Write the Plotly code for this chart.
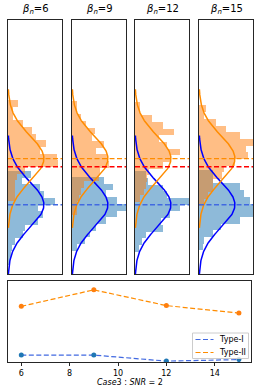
import numpy as np
import plotly.graph_objects as go

# ---------------- data ----------------
betas = [6, 9, 12, 15]
bin_width = 0.29
mu_null, mu_alt, sigma = 0.0, 2.0, 1.0
threshold = 1.645

# histogram densities, listed from the top bin downwards
orange_top = [4.53, 4.50, 4.46, 4.30]
orange_b6 = [0.11, 0.06, 0.06, 0.17, 0.27, 0.31, 0.42, 0.36, 0.54, 0.56, 0.19, 0.10, 0.08, 0.08, 0.08]
orange_b9 = [0.06, 0.06, 0.10, 0.15, 0.26, 0.22, 0.35, 0.27, 0.39, 0.41, 0.31, 0.30, 0.13, 0.10, 0.08, 0.06, 0.05]
orange_b12 = [0.06, 0.06, 0.19, 0.31, 0.43, 0.27, 0.35, 0.50, 0.39, 0.31, 0.15, 0.13, 0.12, 0.10, 0.06]
orange_b15 = [0.08, 0.06, 0.19, 0.30, 0.45, 0.65, 0.52, 0.54, 0.40, 0.28, 0.25, 0.15, 0.15, 0.10, 0.05]

blue_top = [1.46, 1.20, 1.45, 1.50]
blue_b6 = [0.26, 0.15, 0.36, 0.40, 0.52, 0.33, 0.39, 0.33, 0.19, 0.17, 0.08, 0.04, 0.03, 0.02]
blue_b9 = [0.35, 0.45, 0.38, 0.50, 0.60, 0.50, 0.38, 0.27, 0.20, 0.14, 0.06]
blue_b12 = [0.12, 0.14, 0.31, 0.35, 0.65, 0.50, 0.39, 0.29, 0.31, 0.12, 0.08, 0.04]
blue_b15 = [0.15, 0.15, 0.46, 0.50, 0.57, 0.65, 0.62, 0.45, 0.24, 0.15, 0.06, 0.04]

orange_hists = [orange_b6, orange_b9, orange_b12, orange_b15]
blue_hists = [blue_b6, blue_b9, blue_b12, blue_b15]

# error rates
type1 = [0.04, 0.04, 0.0, 0.01]
type2 = [0.365, 0.475, 0.37, 0.32]
series_names = ['Type-I', 'Type-II']

# ---------------- layout geometry ----------------
W, H = 260, 392
panel_x = [(8, 62), (72, 126), (135, 189), (199, 253)]
top_y = (20, 274)
bot_x = (8, 251)
bot_y = (281, 362)


def px_x(a, b):
    return [a / W, b / W]


def px_y(a, b):
    return [1 - b / H, 1 - a / H]


def pdf(y, mu, s):
    return np.exp(-0.5 * ((y - mu) / s) ** 2) / (s * np.sqrt(2 * np.pi))


C_ORANGE = '#ff7f0e'
C_BLUE = '#1f77b4'
DASH = '5px,2.5px'

fig = go.Figure()
shapes = []
annotations = []
layout_axes = {}

for i, beta in enumerate(betas):
    n = i + 1
    xa = 'x' if n == 1 else f'x{n}'
    ya = 'y' if n == 1 else f'y{n}'
    bd = blue_hists[i]
    bc = [blue_top[i] - bin_width * (k + 0.5) for k in range(len(bd))]
    fig.add_trace(go.Bar(x=bd, y=bc, orientation='h', width=bin_width, base=0,
                         marker=dict(color=C_BLUE, line=dict(width=0)), opacity=0.5,
                         xaxis=xa, yaxis=ya, showlegend=False, hoverinfo='skip'))
    od = orange_hists[i]
    oc = [orange_top[i] - bin_width * (k + 0.5) for k in range(len(od))]
    fig.add_trace(go.Bar(x=od, y=oc, orientation='h', width=bin_width, base=0,
                         marker=dict(color=C_ORANGE, line=dict(width=0)), opacity=0.5,
                         xaxis=xa, yaxis=ya, showlegend=False, hoverinfo='skip'))
    yb = np.linspace(mu_null - 3 * sigma, mu_null + 3 * sigma, 200)
    fig.add_trace(go.Scatter(x=pdf(yb, mu_null, sigma), y=yb, mode='lines',
                             line=dict(color='blue', width=1.5), xaxis=xa, yaxis=ya,
                             showlegend=False, hoverinfo='skip'))
    yo = np.linspace(mu_alt - 3 * sigma, mu_alt + 3 * sigma, 200)
    fig.add_trace(go.Scatter(x=pdf(yo, mu_alt, sigma), y=yo, mode='lines',
                             line=dict(color='darkorange', width=1.5), xaxis=xa, yaxis=ya,
                             showlegend=False, hoverinfo='skip'))
    for val, col in [(mu_alt, 'darkorange'), (threshold, 'red'), (mu_null, 'royalblue')]:
        shapes.append(dict(type='line', xref=f'{xa} domain', yref=ya, x0=0, x1=1,
                           y0=val, y1=val, line=dict(color=col, width=1.3, dash=DASH)))
    x0, x1 = panel_x[i]
    axkey = 'xaxis' if n == 1 else f'xaxis{n}'
    aykey = 'yaxis' if n == 1 else f'yaxis{n}'
    layout_axes[axkey] = dict(domain=px_x(x0, x1), range=[0, 0.6], anchor=ya,
                              showticklabels=False, ticks='', showgrid=False, zeroline=False,
                              showline=True, mirror=True, linecolor='#262626', linewidth=1)
    layout_axes[aykey] = dict(domain=px_y(*top_y), range=[-3, 8], anchor=xa,
                              showticklabels=False, ticks='', showgrid=False, zeroline=False,
                              showline=True, mirror=True, linecolor='#262626', linewidth=1)
    annotations.append(dict(xref='paper', yref='paper', x=(x0 + x1) / 2 / W, y=1 - 10 / H,
                            text=f'<i>β</i><sub><i>n</i></sub>={beta}', showarrow=False,
                            font=dict(size=10, color='black'), xanchor='center', yanchor='middle'))

# bottom panel
line_cols = ['royalblue', 'darkorange']
marker_cols = [C_BLUE, C_ORANGE]
for vals, lc, mc, nm in zip([type1, type2], line_cols, marker_cols, series_names):
    fig.add_trace(go.Scatter(x=betas, y=vals, mode='lines', name=nm, showlegend=False,
                             line=dict(color=lc, width=1.2, dash=DASH),
                             xaxis='x5', yaxis='y5'))
for vals, mc in zip([type1, type2], marker_cols):
    fig.add_trace(go.Scatter(x=betas, y=vals, mode='markers', showlegend=False,
                             marker=dict(color=mc, size=5), xaxis='x5', yaxis='y5'))

layout_axes['xaxis5'] = dict(domain=px_x(*bot_x), range=[5.45, 15.5], anchor='y5',
                             tickvals=[6, 8, 10, 12, 14], ticks='outside', ticklen=3,
                             tickcolor='#262626', tickfont=dict(size=8, color='black'),
                             showgrid=False, zeroline=False, showline=True, mirror=True,
                             linecolor='#262626', linewidth=1)
layout_axes['yaxis5'] = dict(domain=px_y(*bot_y), range=[-0.006, 0.534], anchor='x5',
                             showticklabels=False, ticks='', showgrid=False, zeroline=False,
                             showline=True, mirror=True, linecolor='#262626', linewidth=1)
annotations.append(dict(xref='paper', yref='paper', x=(bot_x[0] + bot_x[1]) / 2 / W,
                        y=1 - 382 / H, text='<i>Case</i>3 : <i>SNR</i> = 2', showarrow=False,
                        font=dict(size=8, color='black'), xanchor='center', yanchor='middle'))

# compact legend box (matplotlib style)
lg_x0, lg_x1, lg_y0, lg_y1 = 192.5, 248.5, 333, 358.5
shapes.append(dict(type='rect', xref='paper', yref='paper',
                   x0=lg_x0 / W, x1=lg_x1 / W, y0=1 - lg_y1 / H, y1=1 - lg_y0 / H,
                   line=dict(color='#cccccc', width=1), fillcolor='rgba(255,255,255,0.8)'))
for k, (nm, lc) in enumerate(zip(series_names, line_cols)):
    yy = 1 - (339.5 + 13 * k) / H
    shapes.append(dict(type='line', xref='paper', yref='paper', x0=195.5 / W, x1=213.5 / W,
                       y0=yy, y1=yy, line=dict(color=lc, width=1.2, dash=DASH)))
    annotations.append(dict(xref='paper', yref='paper', x=217 / W, y=yy, text=nm,
                            showarrow=False, xanchor='left', yanchor='middle',
                            font=dict(size=8, color='black')))

fig.update_layout(
    width=W, height=H, margin=dict(l=0, r=0, t=0, b=0),
    paper_bgcolor='white', plot_bgcolor='white',
    font=dict(family='DejaVu Sans', color='black'),
    barmode='overlay', bargap=0, showlegend=False,
    shapes=shapes, annotations=annotations,
    **layout_axes,
)

fig.write_html('out.html', config={'displayModeBar': False},
               post_script="document.body.style.margin='0';document.body.style.overflow='hidden';")
